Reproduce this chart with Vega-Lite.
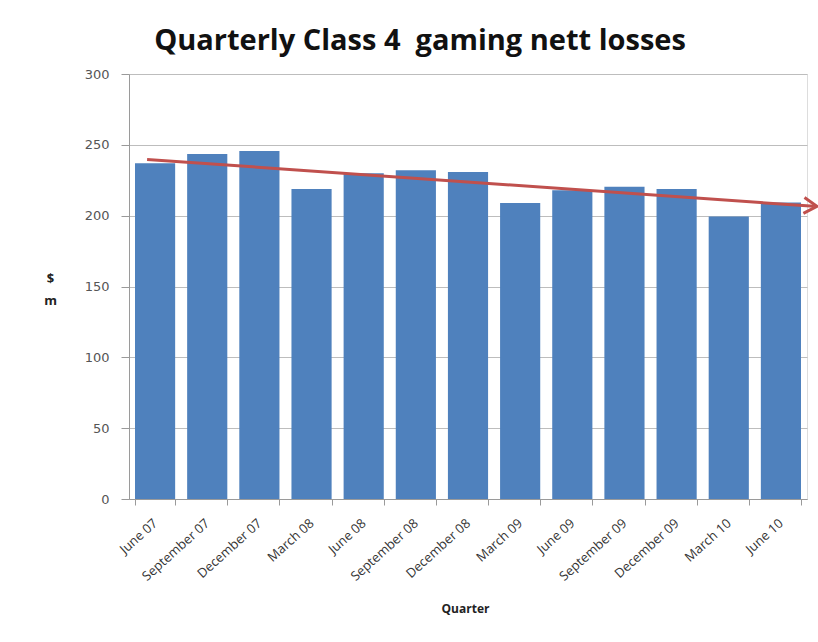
{
  "$schema": "https://vega.github.io/schema/vega-lite/v6.json",
  "width": 678,
  "height": 425,
  "autosize": {"type": "none"},
  "padding": {"left": 129, "top": 74, "right": 11, "bottom": 143},
  "background": "white",
  "title": {
    "text": "Quarterly Class 4\u00a0 gaming nett losses",
    "font": "Open Sans",
    "fontSize": 29,
    "fontWeight": "bold",
    "color": "#111111",
    "anchor": "middle",
    "dx": -48,
    "offset": 12
  },
  "datasets": {
    "bars": [
      {"quarter": "June 07", "losses": 237},
      {"quarter": "September 07", "losses": 243.5},
      {"quarter": "December 07", "losses": 245.6},
      {"quarter": "March 08", "losses": 218.8},
      {"quarter": "June 08", "losses": 230},
      {"quarter": "September 08", "losses": 232},
      {"quarter": "December 08", "losses": 230.8},
      {"quarter": "March 09", "losses": 209},
      {"quarter": "June 09", "losses": 218},
      {"quarter": "September 09", "losses": 220.5},
      {"quarter": "December 09", "losses": 218.8},
      {"quarter": "March 10", "losses": 199.4},
      {"quarter": "June 10", "losses": 209.3}
    ],
    "trend": [
      {"start": "June 07", "end": "June 10", "v1": 239.7, "v2": 206.6}
    ]
  },
  "layer": [
    {
      "data": {"name": "bars"},
      "mark": {"type": "bar", "color": "#4F81BD"},
      "encoding": {
        "x": {
          "field": "quarter",
          "type": "nominal",
          "sort": null,
          "scale": {"paddingInner": 0.23, "paddingOuter": 0.115},
          "axis": {
            "title": "Quarter",
            "titleFont": "Open Sans",
            "titleFontSize": 12,
            "titleFontWeight": "bold",
            "titleColor": "#222222",
            "titleY": 109,
            "titleBaseline": "middle",
            "titleX": 336,
            "labelAngle": -42,
            "labelAlign": "right",
            "labelBaseline": "middle",
            "labelFont": "Open Sans",
            "labelFontSize": 13,
            "labelColor": "#333333",
            "labelPadding": 16,
            "tickBand": "extent",
            "tickSize": 6,
            "tickColor": "#9a9a9a",
            "domainColor": "#9a9a9a",
            "grid": false
          }
        },
        "y": {
          "field": "losses",
          "type": "quantitative",
          "scale": {"domain": [0, 300], "nice": false},
          "axis": {
            "values": [0, 50, 100, 150, 200, 250, 300],
            "title": ["$", "m"],
            "titleAngle": 0,
            "titleAlign": "center",
            "titleBaseline": "middle",
            "titleX": -79,
            "titleY": 204,
            "titleLineHeight": 22,
            "titleFont": "Open Sans",
            "titleFontSize": 13,
            "titleFontWeight": "bold",
            "titleColor": "#222222",
            "labelFont": "DejaVu Sans",
            "labelFontSize": 13,
            "labelColor": "#555555",
            "labelPadding": 12,
            "tickSize": 8,
            "tickColor": "#9a9a9a",
            "domainColor": "#9a9a9a",
            "grid": true,
            "gridColor": "#bdbdbd",
            "gridWidth": 1
          }
        }
      }
    },
    {
      "data": {"name": "trend"},
      "mark": {"type": "rule", "color": "#C0504D", "strokeWidth": 3, "xOffset": -8, "x2Offset": 33},
      "encoding": {
        "x": {"field": "start", "type": "nominal", "sort": null},
        "x2": {"field": "end"},
        "y": {"field": "v1", "type": "quantitative"},
        "y2": {"field": "v2"}
      }
    },
    {
      "data": {"name": "trend"},
      "mark": {
        "type": "point",
        "shape": "M -1.3 -0.8 L 0 0 L -1.3 0.8",
        "filled": false,
        "stroke": "#C0504D",
        "strokeWidth": 3,
        "size": 400,
        "angle": 4,
        "xOffset": 36,
        "opacity": 1
      },
      "encoding": {
        "x": {"field": "end", "type": "nominal", "sort": null},
        "y": {"field": "v2", "type": "quantitative"}
      }
    }
  ]
}
